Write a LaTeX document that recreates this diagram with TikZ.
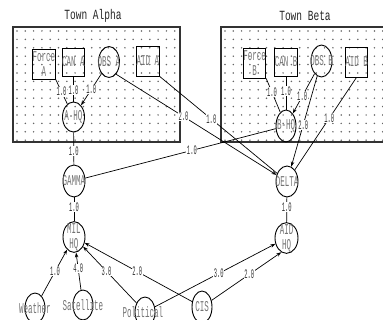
\documentclass[tikz,border=0pt]{standalone}
\usepackage{fontspec}
\newfontfamily\nodefont[FakeStretch=0.5]{Liberation Mono}
\newfontfamily\titlefont[FakeStretch=0.68]{Liberation Mono}
\newfontfamily\lblfont[FakeStretch=0.42]{Liberation Mono}
\usetikzlibrary{arrows.meta,shapes.geometric}
\newcommand{\nt}[1]{\makebox[0pt]{#1}}
\tikzset{
    net title/.style={font=\titlefont\fontsize{14}{14}\selectfont, text=black!85},
    net town/.style={draw=black!80, line width=1.1pt},
    net dot/.style={fill=black!60},
    net box/.style={
        draw=black,
        line width=0.9pt,
        inner sep=0pt,
        minimum width=21pt,
        minimum height=29pt,
        align=center,
        font=\nodefont\fontsize{15}{15}\selectfont,
        text=black!55
    },
    net oval/.style={net box, ellipse, inner xsep=0pt, inner ysep=-3pt, minimum width=21pt, minimum height=31pt},
    net label/.style={font=\lblfont\fontsize{13}{13}\selectfont, text=black!80, fill=white, inner sep=0.5pt},
    net line/.style={draw=black, line width=0.7pt},
    net arrow/.style={net line, -{Stealth[length=5pt,width=3.5pt]}}
}
\begin{document}
\begin{tikzpicture}[x=1pt, y=-1pt]
\useasboundingbox (0,0) rectangle (383,320);
\clip (0,0) rectangle (383,320);
% town areas
\begin{scope}
  \clip (13,27) rectangle (180,142);
  \foreach \i in {0,...,20} \foreach \j in {0,...,13}
    \fill[net dot] (17+8.3*\i, 31+8.4*\j) circle (0.85pt);
\end{scope}
\begin{scope}
  \clip (221,27) rectangle (396,142);
  \foreach \i in {0,...,21} \foreach \j in {0,...,13}
    \fill[net dot] (225+8.3*\i, 31+8.4*\j) circle (0.85pt);
\end{scope}
\draw[net town] (13,27) rectangle (180,142);
\draw[net town] (221,27) rectangle (396,142);
\node[net title] (alphaT) at (93,16) {Town Alpha};
\node[net title] (betaT) at (305,16) {Town Beta};

% Town Alpha
\node[net box, minimum width=22pt, minimum height=30pt] (forceA) at (44,64) {Force\\A};
\node[net box, minimum height=28pt] (canA) at (73.5,62) {CAN A};
\node[net oval] (obsA) at (109,62) {\nt{OBS A}};
\node[net box, minimum width=20pt, minimum height=30pt] (aidA) at (148,61) {AID A};
\node[net oval, minimum width=22pt, minimum height=30pt] (ahq) at (73.5,117) {\nt{A-HQ}};

% Town Beta
\node[net box, minimum height=30pt] (forceB) at (254.5,63) {Force\\B};
\node[net box, minimum width=20pt, minimum height=28pt] (canB) at (286,62) {CAN B};
\node[net oval, minimum height=32pt] (obsB) at (321.5,61) {\nt{OBS B}};
\node[net box, minimum height=30pt] (aidB) at (356.5,62) {AID B};
\node[net oval, minimum width=20pt, minimum height=32pt] (bhq) at (286,126) {\nt{B-HQ}};

% headquarters
\node[net oval, minimum width=22pt, minimum height=32pt] (gamma) at (74,181) {\nt{GAMMA}};
\node[net oval, minimum width=22pt, minimum height=30pt] (milhq) at (74,237) {\nt{MIL}\\\nt{HQ}};
\node[net oval, minimum width=22pt] (delta) at (287,181.5) {\nt{DELTA}};
\node[net oval, minimum width=23pt, minimum height=30pt] (aidhq) at (286.5,238) {\nt{AID}\\\nt{HQ}};

% sources
\node[net oval, minimum width=20pt, minimum height=30pt] (weather) at (35,308) {\nt{Weather}};
\node[net oval, minimum width=20pt, minimum height=30pt] (satellite) at (83,305) {\nt{Satellite}};
\node[net oval, minimum width=20pt, minimum height=30pt] (political) at (145,312) {\nt{\hspace*{-4pt}Political}};
\node[net oval, minimum width=20pt, minimum height=32pt] (cis) at (202,307) {\nt{CIS}};

% inside Town Alpha
\draw[net line] (forceA.south east) -- (ahq) node[net label, pos=0.5] {1.0};
\draw[net line] (canA) -- (ahq) node[net label, pos=0.55] {1.0};
\draw[net arrow] (obsA) -- (ahq) node[net label, pos=0.5] {1.0};
% inside Town Beta
\draw[net line] (forceB.south east) -- (bhq) node[net label, pos=0.41] {1.0};
\draw[net line] (canB) -- (bhq) node[net label, pos=0.44] {1.0};
\draw[net arrow] (obsB) -- (bhq) node[net label, pos=0.57] {1.0};
\draw[net arrow] (obsB) -- (delta) node[net label, pos=0.54] {2.0};
\draw[net line] (aidB.south) -- (delta) node[net label, pos=0.44] {1.0};
% across the towns
\draw[net arrow] (obsA.300) -- (delta) node[net label, pos=0.42] {2.0};
\draw[net line] (aidA.south east) -- (delta) node[net label, pos=0.44] {1.0};
\draw[net line] (bhq) -- (gamma) node[net label, pos=0.44] {1.0};
% chains down
\draw[net line] (ahq) -- (gamma) node[net label, pos=0.57] {1.0};
\draw[net line] (gamma) -- (milhq) node[net label, pos=0.4] {1.0};
\draw[net line] (delta) -- (aidhq) node[net label, pos=0.38] {1.0};
% sources to headquarters
\draw[net arrow] (weather) -- (milhq) node[net label, pos=0.53] {1.0};
\draw[net arrow] (satellite) -- (milhq) node[net label, pos=0.57] {4.0};
\draw[net arrow] (political) -- (milhq) node[net label, pos=0.56] {3.0};
\draw[net arrow] (cis) -- (milhq) node[net label, pos=0.51] {2.0};
\draw[net arrow] (political) -- (aidhq) node[net label, pos=0.53] {3.0};
\draw[net arrow] (cis) -- (aidhq.250) node[net label, pos=0.54] {2.0};
\end{tikzpicture}
\end{document}
